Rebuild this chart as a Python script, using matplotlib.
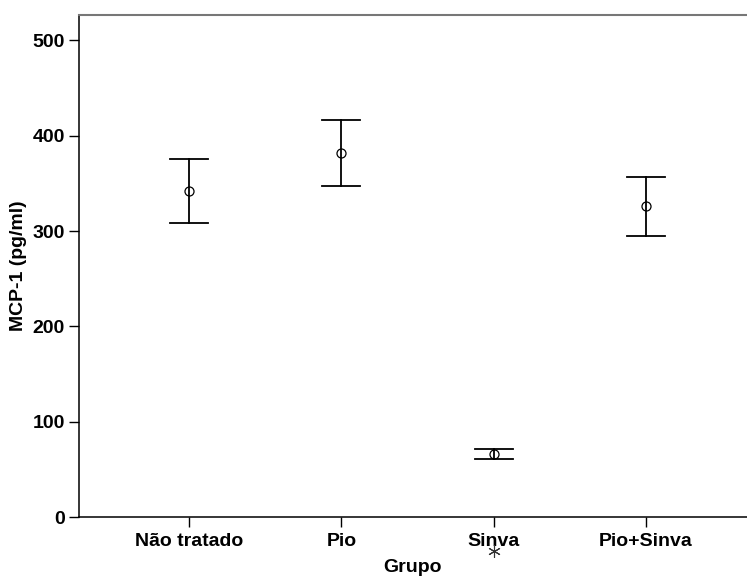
import matplotlib
matplotlib.use("Agg")
import matplotlib.pyplot as plt
import matplotlib.transforms as mtransforms

plt.rcParams["font.family"] = ["Liberation Sans", "DejaVu Sans"]
plt.rcParams["font.weight"] = "bold"

groups = ["Não tratado", "Pio", "Sinva", "Pio+Sinva"]
means = [342, 382, 66.5, 326]
upper = [376, 416.5, 71.5, 357]
lower = [308, 347.5, 61, 295]
star_group = "Sinva"

fig = plt.figure(figsize=(7.47, 5.76), dpi=100)
ax = fig.add_axes([0.1054, 0.1019, 0.8946, 0.8726])

xs = list(range(1, len(groups) + 1))
cap = 0.125
for x, m, hi, lo in zip(xs, means, upper, lower):
    ax.plot([x, x], [lo, hi], color="black", lw=1.3)
    ax.plot([x - cap, x + cap], [hi, hi], color="black", lw=1.3)
    ax.plot([x - cap, x + cap], [lo, lo], color="black", lw=1.3)
    ax.plot(x, m, marker="o", markersize=6.5, markerfacecolor="none",
            markeredgecolor="black", markeredgewidth=0.9)

# asterisk under the significant group
trans = mtransforms.blended_transform_factory(ax.transData, ax.transAxes)
sx = groups.index(star_group) + 1
ax.plot(sx, -0.068, marker=(6, 2, 0), markersize=9, color="#333333",
        markeredgewidth=0.8, transform=trans, clip_on=False)

ax.set_xlim(0.276, 4.663)
ax.set_ylim(0, 526.8)
ax.set_xticks(xs)
ax.set_xticklabels(groups)
ax.set_yticks([0, 100, 200, 300, 400, 500])
ax.tick_params(axis="both", length=7, width=1, labelsize=14, pad=3)
ax.tick_params(axis="x", pad=4.5)
for lab in ax.get_xticklabels() + ax.get_yticklabels():
    lab.set_fontweight("bold")

ax.set_xlabel("Grupo", fontsize=14, fontweight="bold", labelpad=6.5)
ax.set_ylabel("MCP-1 (pg/ml)", fontsize=14, fontweight="bold", labelpad=4)

ax.spines["right"].set_visible(False)
ax.spines["top"].set_color("#777777")
ax.spines["top"].set_linewidth(1.5)
ax.spines["left"].set_linewidth(1.1)
ax.spines["bottom"].set_linewidth(1.1)

fig.savefig("out.png", dpi=100)
